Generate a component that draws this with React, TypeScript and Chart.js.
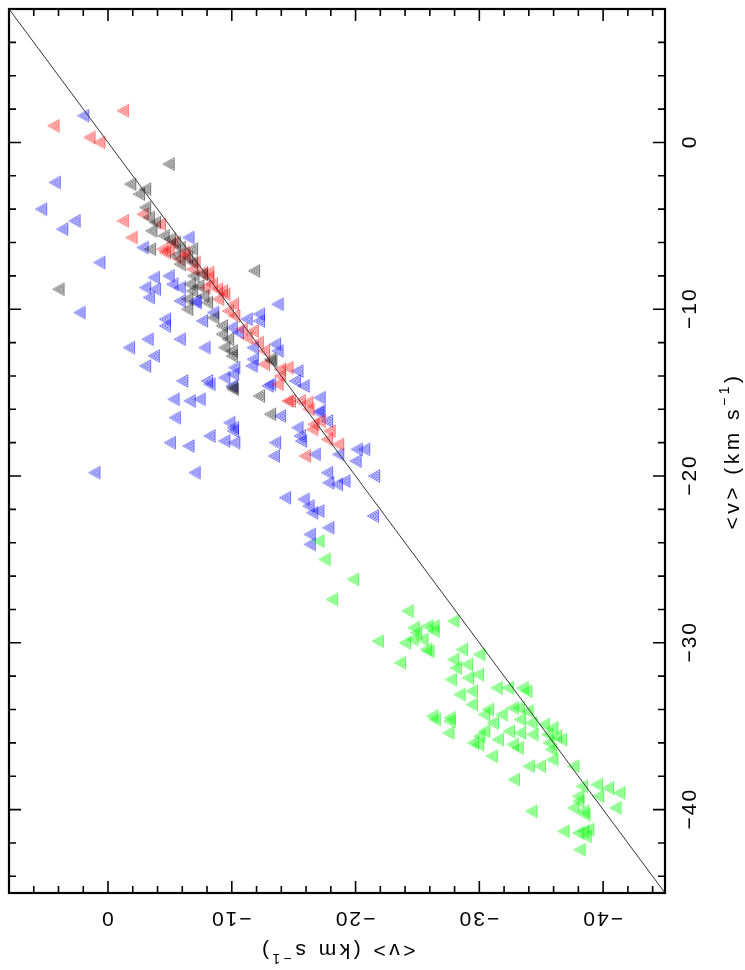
import React, { useEffect, useRef } from 'react';
import { Chart, registerables } from 'chart.js';

Chart.register(...registerables);

const AXIS_MIN = -45;
const AXIS_MAX = 8;
const MINOR_STEP = 2;
const MAJOR_STEP = 10;
const xTickLabels = [0, -10, -20, -30, -40];
const yTickLabels = [0, -10, -20, -30, -40];
const titleMain = '<v> (km s';
const titleSup = '\u22121';
const titleEnd = ')';

const lineX = [8, -45];
const lineY = [8, -45];

const blueX = [2.0, 4.3, 5.4, 2.7, 3.7, -6.5, -2.8, 0.7, -3.7, -4.9, -3.0, -3.8, -5.2, -5.8, -3.3, -5.8, -7.0, -7.1, -13.7, -8.5,
  -12.2, -12.2, -11.2, -7.6, -4.6, -4.6, -10.0, -10.5, -3.2, -5.8, -7.8, -1.7, -11.7, -13.5, -13.7, -3.7, -11.7, -3.0, -10.2, -10.1,
  -11.6, -15.3, -6.0, -8.0, -8.2, -9.4, -10.0, -13.1, -15.1, -15.8, -5.3, -6.6, -7.4, -17.1, -12.9, -17.0, -17.1, -5.4, -13.9, -17.7,
  -9.8, -10.1, -10.1, -15.3, -15.5, -15.6, -8.2, -5.0, -6.5, -9.4, -10.2, -13.5, -13.4, -16.7, -18.6, -20.1, -20.7, -20.0, -7.0, -17.7,
  -21.5, -17.8, -18.5, -19.1, -14.3, -15.8, -16.2, -16.5, -17.0, -21.4, -17.8, -16.3, -16.3, 2.3, 1.1];
const blueY = [1.6, -2.4, -4.0, -4.7, -5.2, -5.7, -6.3, -7.2, -8.1, -8.0, -8.7, -8.8, -8.5, -8.7, -9.3, -9.5, -9.5, -9.6, -9.7, -10.2,
  -10.3, -10.7, -10.6, -10.7, -10.6, -11.0, -11.1, -11.4, -11.8, -11.8, -12.3, -12.3, -12.3, -12.1, -12.5, -12.8, -13.0, -13.4, -13.5, -13.9,
  -13.4, -13.7, -14.3, -14.3, -14.5, -14.1, -14.6, -14.5, -14.3, -14.6, -15.4, -15.5, -15.4, -15.3, -14.6, -16.2, -16.1, -16.5, -16.4, -16.7,
  -16.8, -17.1, -17.3, -17.1, -17.6, -17.9, -17.6, -18.0, -18.2, -17.9, -18.0, -18.0, -18.8, -18.7, -18.7, -18.4, -18.4, -19.1, -19.8, -19.8,
  -20.0, -20.4, -20.5, -20.3, -21.3, -21.4, -21.8, -22.2, -22.1, -22.4, -23.1, -23.5, -24.1, -10.2, -19.8];

const redX = [-1.2, 4.4, 1.5, 0.7, -2.8, -4.2, -1.2, -1.9, -4.4, -4.9, -5.2, -4.6, -5.7, -6.2, -6.1, -6.8, -7.6, -8.1, -8.4, -8.1,
  -7.8, -8.8, -9.4, -9.2, -9.7, -10.1, -10.2, -10.8, -11.7, -11.2, -12.1, -12.6, -12.6, -13.9, -14.5, -13.9, -13.7, -14.5, -14.7, -15.5,
  -16.1, -16.2, -16.5, -16.6, -17.1, -17.9, -17.7, -18.6, -15.9, -7.0, -8.9];
const redY = [1.9, 1.0, 0.3, 0.0, -4.3, -4.9, -4.7, -5.7, -6.4, -6.4, -6.0, -6.6, -7.0, -6.8, -6.6, -7.6, -7.8, -8.1, -8.5, -7.8,
  -8.7, -8.8, -9.1, -8.9, -10.1, -9.7, -10.4, -11.2, -11.3, -11.7, -12.0, -12.5, -13.3, -13.6, -13.5, -14.0, -14.5, -15.5, -15.5, -15.5,
  -15.6, -16.0, -17.2, -16.9, -16.7, -17.3, -17.8, -18.1, -18.8, -7.2, -9.4];

const blackX = [-4.9, -1.8, -3.0, -2.5, -3.0, -3.3, -3.5, -3.4, -3.8, -4.5, -5.0, -5.4, -5.8, -6.8, -5.4, -6.4, -5.8, -6.8, -11.8, -6.9,
  -7.6, -6.6, -7.3, -6.8, -7.7, -6.4, -8.0, -6.4, -8.5, -9.2, -9.2, -9.7, -9.4, -10.0, -10.0, -13.1, -13.2, -12.2, -10.0, -10.1,
  -13.1, 4.0];
const blackY = [-1.3, -2.5, -2.8, -3.1, -3.9, -4.5, -5.3, -6.4, -4.8, -5.6, -5.8, -6.0, -6.3, -6.4, -6.8, -6.9, -7.3, -7.2, -7.7, -8.0,
  -7.9, -8.5, -8.6, -8.9, -9.2, -9.4, -9.6, -10.0, -10.5, -11.0, -11.5, -11.8, -12.3, -12.5, -12.8, -13.0, -13.1, -15.2, -14.7, -14.8,
  -16.3, -8.8];

const greenX = [-17.0, -17.5, -19.8, -18.1, -24.2, -27.9, -24.7, -24.9, -25.8, -26.3, -26.3, -21.8, -24.0, -24.6, -25.4, -25.9, -25.7, -23.6, -28.6, -30.0,
  -27.9, -28.1, -29.0, -27.7, -29.1, -29.9, -28.4, -29.4, -29.4, -31.4, -32.3, -33.5, -33.8, -26.2, -26.4, -27.6, -27.6, -27.5, -30.7, -30.4,
  -31.1, -31.8, -32.7, -33.2, -33.9, -33.3, -34.2, -30.4, -29.5, -29.9, -30.0, -31.5, -32.4, -33.3, -32.7, -33.1, -34.3, -35.2, -35.9, -35.5,
  -36.2, -36.6, -35.6, -35.8, -35.9, -31.0, -34.0, -34.9, -37.6, -32.8, -38.3, -39.5, -40.4, -41.3, -38.0, -38.0, -39.6, -37.6, -38.4, -38.5,
  -41.0, -34.2, -36.8, -38.0, -38.4, -38.8, -38.6, -38.1];
const greenY = [-23.9, -25.0, -26.2, -27.4, -28.1, -28.7, -29.1, -29.4, -29.0, -29.0, -29.3, -29.9, -30.0, -29.8, -29.8, -30.5, -30.4, -31.2, -30.4, -30.7,
  -31.0, -31.5, -31.3, -32.2, -32.1, -31.9, -33.1, -32.9, -33.7, -32.7, -32.7, -32.7, -32.9, -34.4, -34.6, -34.5, -34.7, -35.4, -34.0, -34.3,
  -34.8, -34.3, -33.9, -33.9, -34.1, -34.6, -34.8, -35.3, -36.0, -36.1, -35.6, -35.8, -35.3, -35.4, -36.1, -36.3, -35.5, -34.9, -35.1, -35.5,
  -35.6, -35.8, -36.0, -36.4, -37.0, -36.8, -37.4, -37.4, -37.4, -38.2, -38.6, -38.5, -38.7, -39.0, -39.2, -39.5, -39.2, -39.9, -40.1, -40.3,
  -39.9, -40.1, -41.3, -41.4, -41.3, -41.2, -41.6, -42.4];

const FONT = '"Liberation Sans", Arial, sans-serif';
const TICK_FS = 21;

function pts(xs: number[], ys: number[]) {
  return xs.map((x, i) => ({ x, y: ys[i] }));
}

function fmt(v: number) {
  return v < 0 ? '\u2212' + Math.abs(v) : String(v);
}

function marker(color: string, alpha: number): HTMLCanvasElement {
  const c = document.createElement('canvas');
  c.width = 16;
  c.height = 16;
  const g = c.getContext('2d')!;
  g.strokeStyle = color;
  g.globalAlpha = alpha;
  g.lineWidth = 0.7;
  const apex = [2.5, 8];
  const top = [13.5, 1.8];
  const bot = [13.5, 14.2];
  const cx = (apex[0] + top[0] + bot[0]) / 3;
  const cy = 8;
  for (const k of [1, 0.64, 0.3]) {
    const p = [apex, top, bot].map(([x, y]) => [cx + (x - cx) * k, cy + (y - cy) * k]);
    g.beginPath();
    g.moveTo(p[0][0], p[0][1]);
    g.lineTo(p[1][0], p[1][1]);
    g.lineTo(p[2][0], p[2][1]);
    g.closePath();
    g.stroke();
  }
  return c;
}

function setSpacing(ctx: any, px: number) {
  if ('letterSpacing' in ctx) ctx.letterSpacing = `${px}px`;
}

function drawTitle(ctx: CanvasRenderingContext2D, x: number, y: number, angle: number) {
  const fs = TICK_FS;
  const main = `${fs}px ${FONT}`;
  const sup = `${Math.round(fs * 0.68)}px ${FONT}`;
  ctx.save();
  ctx.translate(x, y);
  ctx.rotate(angle);
  ctx.fillStyle = '#000';
  ctx.textAlign = 'left';
  ctx.textBaseline = 'alphabetic';
  setSpacing(ctx, 3.5);
  ctx.font = main;
  const w1 = ctx.measureText(titleMain).width;
  const w3 = ctx.measureText(titleEnd).width;
  ctx.font = sup;
  const w2 = ctx.measureText(titleSup).width;
  const total = w1 + w2 + w3;
  let cx = -total / 2;
  const base = fs * 0.36;
  ctx.font = main;
  ctx.fillText(titleMain, cx, base);
  cx += w1;
  ctx.font = sup;
  ctx.fillText(titleSup, cx, base - fs * 0.45);
  cx += w2;
  ctx.font = main;
  ctx.fillText(titleEnd, cx, base);
  ctx.restore();
}

const framePlugin = {
  id: 'pgFrame',
  afterDraw(chart: any) {
    const { ctx, chartArea: a, scales } = chart;
    const xs = scales.x;
    const ys = scales.y;
    ctx.save();
    ctx.strokeStyle = '#000';
    ctx.lineCap = 'butt';
    ctx.lineWidth = 1.6;
    const start = Math.ceil(AXIS_MIN / MINOR_STEP) * MINOR_STEP;
    for (let v = start; v <= AXIS_MAX; v += MINOR_STEP) {
      const major = v % MAJOR_STEP === 0;
      const len = major ? 12 : 7;
      const px = xs.getPixelForValue(v);
      const py = ys.getPixelForValue(v);
      ctx.beginPath();
      ctx.moveTo(px, a.bottom); ctx.lineTo(px, a.bottom - len);
      ctx.moveTo(px, a.top); ctx.lineTo(px, a.top + len);
      ctx.moveTo(a.left, py); ctx.lineTo(a.left + len, py);
      ctx.moveTo(a.right, py); ctx.lineTo(a.right - len, py);
      ctx.stroke();
    }
    ctx.lineWidth = 2.2;
    ctx.strokeRect(a.left, a.top, a.right - a.left, a.bottom - a.top);

    ctx.fillStyle = '#000';
    ctx.font = `${TICK_FS}px ${FONT}`;
    setSpacing(ctx, 2);
    ctx.textAlign = 'center';
    ctx.textBaseline = 'middle';
    for (const v of xTickLabels) {
      const px = xs.getPixelForValue(v);
      ctx.save();
      ctx.translate(px, a.bottom + 25);
      ctx.rotate(Math.PI);
      ctx.fillText(fmt(v), 1, 0);
      ctx.restore();
    }
    for (const v of yTickLabels) {
      const py = ys.getPixelForValue(v);
      ctx.save();
      ctx.translate(a.right + 25, py);
      ctx.rotate(-Math.PI / 2);
      ctx.fillText(fmt(v), 1, 0);
      ctx.restore();
    }
    drawTitle(ctx, (a.left + a.right) / 2, a.bottom + 59, Math.PI);
    drawTitle(ctx, a.right + 66, (a.top + a.bottom) / 2, -Math.PI / 2);
    ctx.restore();
  },
};

export default function App() {
  const ref = useRef<HTMLCanvasElement | null>(null);
  useEffect(() => {
    document.body.style.margin = '0';
    const canvas = ref.current!;
    const chart = new Chart(canvas, {
      type: 'scatter',
      data: {
        datasets: [
          { label: 'blue', data: pts(blueX, blueY), pointStyle: marker('#0000ff', 0.8), pointRadius: 8, order: 4 } as any,
          { label: 'red', data: pts(redX, redY), pointStyle: marker('#ff0000', 0.8), pointRadius: 8, order: 3 } as any,
          { label: 'black', data: pts(blackX, blackY), pointStyle: marker('#000000', 0.75), pointRadius: 8, order: 2 } as any,
          { label: 'green', data: pts(greenX, greenY), pointStyle: marker('#00ff00', 0.9), pointRadius: 8, order: 1 } as any,
          {
            type: 'line', label: 'fit', data: pts(lineX, lineY), borderColor: '#333333', borderWidth: 1,
            pointRadius: 0, showLine: true, fill: false, order: 0,
          } as any,
        ],
      },
      options: {
        animation: false,
        responsive: false,
        maintainAspectRatio: false,
        events: [],
        layout: { padding: { left: 2, top: 1, right: 80, bottom: 77 } },
        scales: {
          x: { type: 'linear', min: AXIS_MIN, max: AXIS_MAX, reverse: true, display: false },
          y: { type: 'linear', min: AXIS_MIN, max: AXIS_MAX, display: false },
        },
        plugins: { legend: { display: false }, tooltip: { enabled: false } },
      },
      plugins: [framePlugin],
    });
    return () => chart.destroy();
  }, []);
  return (
    <div style={{ position: 'absolute', left: 0, top: 0, width: 745, height: 970, background: '#fff' }}>
      <canvas ref={ref} width={745} height={970} style={{ display: 'block', width: 745, height: 970 }} />
    </div>
  );
}
